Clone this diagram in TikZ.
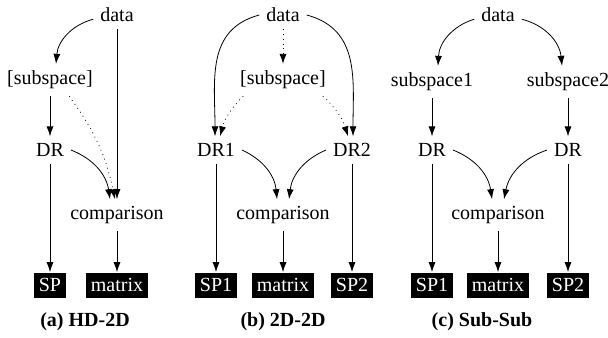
\documentclass[tikz,border=0pt]{standalone}
\usepackage{fontspec}
\setmainfont{Liberation Serif}
\usetikzlibrary{arrows.meta}
\tikzset{
  blk/.style={fill=black,text=white,inner xsep=2.5pt,inner ysep=0pt,minimum height=12.5pt},
  subcap/.style={font=\bfseries},
}

\begin{document}
\begin{tikzpicture}[x=0.5pt,y=0.5pt,>={Latex[length=5pt,width=3.5pt]}]
        \useasboundingbox (0,0) rectangle (608,-337);
        % (a)
        \node (dataA) at (117,-15) {data};
        \node (subA) at (50,-80) {[subspace]};
        \node (drA) at (50,-150) {DR};
        \node (compA) at (117,-215) {comparison};
        \node[blk] (spA) at (50,-285) {SP};
        \node[blk] (matA) at (117,-285) {matrix};
        \node[subcap] (capA) at (85,-322) {(a) HD-2D};
        \draw[->] (dataA.190) to[bend right=35] ([xshift=3pt]subA.north);
        \draw[->] (subA) -- (drA);
        \draw[->] (dataA) -- (compA);
        \draw[->,dotted] (subA.-40) to[bend left=12] ([xshift=-1pt]compA.north);
        \draw[->] (drA.east) to[bend left=30] ([xshift=-3.5pt]compA.north);
        \draw[->] (drA) -- (spA);
        \draw[->] (compA) -- (matA);
        % (b)
        \node (dataB) at (283,-15) {data};
        \node (subB) at (283,-80) {[subspace]};
        \node (drB1) at (216,-150) {DR1};
        \node (drB2) at (352,-150) {DR2};
        \node (compB) at (283,-215) {comparison};
        \node[blk] (spB1) at (216,-285) {SP1};
        \node[blk] (matB) at (283,-285) {matrix};
        \node[blk] (spB2) at (352,-285) {SP2};
        \node[subcap] (capB) at (283,-322) {(b) 2D-2D};
        \draw[->] (dataB.west) to[out=195,in=90,looseness=1.1] ([xshift=-0.5pt]drB1.north);
        \draw[->] (dataB.east) to[out=-15,in=90,looseness=1.1] ([xshift=0.5pt]drB2.north);
        \draw[->,dotted] (dataB) -- (subB);
        \draw[->,dotted] ([xshift=5pt]subB.south west) to[bend right=15] ([xshift=2pt]drB1.north);
        \draw[->,dotted] ([xshift=-5pt]subB.south east) to[bend left=15] ([xshift=-2pt]drB2.north);
        \draw[->] (drB1.east) to[bend left=30] ([xshift=-3pt]compB.north);
        \draw[->] (drB2.west) to[bend right=30] ([xshift=3pt]compB.north);
        \draw[->] (drB1) -- (spB1);
        \draw[->] (drB2) -- (spB2);
        \draw[->] (compB) -- (matB);
        % (c)
        \node (dataC) at (498,-15) {data};
        \node (subC1) at (432,-82) {subspace1};
        \node (subC2) at (568,-82) {subspace2};
        \node (drC1) at (432,-150) {DR};
        \node (drC2) at (568,-150) {DR};
        \node (compC) at (498,-215) {comparison};
        \node[blk] (spC1) at (432,-285) {SP1};
        \node[blk] (matC) at (498,-285) {matrix};
        \node[blk] (spC2) at (568,-285) {SP2};
        \node[subcap] (capC) at (482,-322) {(c) Sub-Sub};
        \draw[->] (dataC.190) to[bend right=35] ([xshift=3pt]subC1.north);
        \draw[->] (dataC.-10) to[bend left=35] ([xshift=-3pt]subC2.north);
        \draw[->] (subC1) -- (drC1);
        \draw[->] (subC2) -- (drC2);
        \draw[->] (drC1.east) to[bend left=30] ([xshift=-3pt]compC.north);
        \draw[->] (drC2.west) to[bend right=30] ([xshift=3pt]compC.north);
        \draw[->] (drC1) -- (spC1);
        \draw[->] (drC2) -- (spC2);
        \draw[->] (compC) -- (matC);
\end{tikzpicture}
\end{document}
